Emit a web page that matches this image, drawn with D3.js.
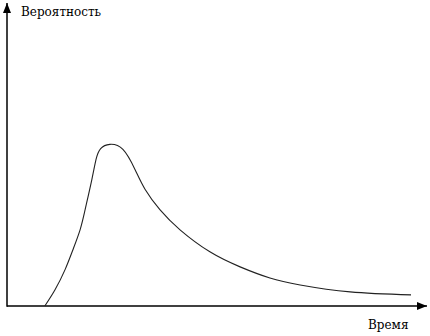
<!DOCTYPE html>
<html>
<head>
<meta charset="utf-8">
<script src="https://cdn.jsdelivr.net/npm/d3@7"></script>
<style>
  body { margin: 0; background: #fff; }
</style>
</head>
<body>
<div id="chart"></div>
<script>
// time (arbitrary units) and probability (arbitrary units)
var times = [9, 11.4, 13.8, 15.7, 17.4, 18.6, 20.2, 21.2, 22.3, 24.5, 27.6, 30.5, 32.9, 36.4, 41.2, 48.3, 55.5, 62.6, 69.8, 81.7, 96.2];
var probs = [0, 5.3, 12, 18.7, 25.3, 32, 42, 48.7, 52.3, 53.7, 52, 45.3, 38.7, 32, 25.3, 18, 13, 9.3, 7, 4.7, 3.7];
var xLabel = "Время";
var yLabel = "Вероятность";

var w = 430, h = 336;
var margin = {top: 5, right: 3, bottom: 30, left: 7};
var width = w - margin.left - margin.right;
var height = h - margin.top - margin.bottom;
var font = "'DejaVu Serif', serif";

var svg = d3.select("#chart")
  .append("svg")
    .attr("width", w)
    .attr("height", h);

var g = svg.append("g")
    .attr("transform", "translate(" + margin.left + "," + margin.top + ")");

var x = d3.scaleLinear()
  .domain([0, 100])
  .range([0, width]);

var y = d3.scaleLinear()
  .domain([0, 100])
  .range([height, 0]);

svg.append("defs").append("marker")
    .attr("id", "arrow")
    .attr("viewBox", "0 0 10 8")
    .attr("refX", 10)
    .attr("refY", 4)
    .attr("markerUnits", "userSpaceOnUse")
    .attr("markerWidth", 11)
    .attr("markerHeight", 8)
    .attr("orient", "auto")
  .append("path")
    .attr("d", "M0,0 L10,4 L0,8 Z")
    .attr("fill", "#000");

// axes as plain arrows
g.append("line")
    .attr("x1", x(0)).attr("y1", y(0))
    .attr("x2", x(100)).attr("y2", y(0))
    .attr("stroke", "#000")
    .attr("stroke-width", 1.5)
    .attr("marker-end", "url(#arrow)");

g.append("line")
    .attr("x1", x(0)).attr("y1", y(0) + 0.75)
    .attr("x2", x(0)).attr("y2", y(100) - 2)
    .attr("stroke", "#000")
    .attr("stroke-width", 1.5)
    .attr("marker-end", "url(#arrow)");

var data = times.map(function(t, i) { return [t, probs[i]]; });

g.append("path")
    .datum(data)
    .attr("fill", "none")
    .attr("stroke", "#222")
    .attr("stroke-width", 1.1)
    .attr("d", d3.line()
      .curve(d3.curveNatural)
      .x(function(d) { return x(d[0]); })
      .y(function(d) { return y(d[1]); }));

svg.append("text")
    .attr("x", 21)
    .attr("y", 16)
    .attr("font-family", font)
    .attr("font-size", 12)
    .text(yLabel);

svg.append("text")
    .attr("x", 368)
    .attr("y", 329)
    .attr("font-family", font)
    .attr("font-size", 12)
    .text(xLabel);
</script>
</body>
</html>
